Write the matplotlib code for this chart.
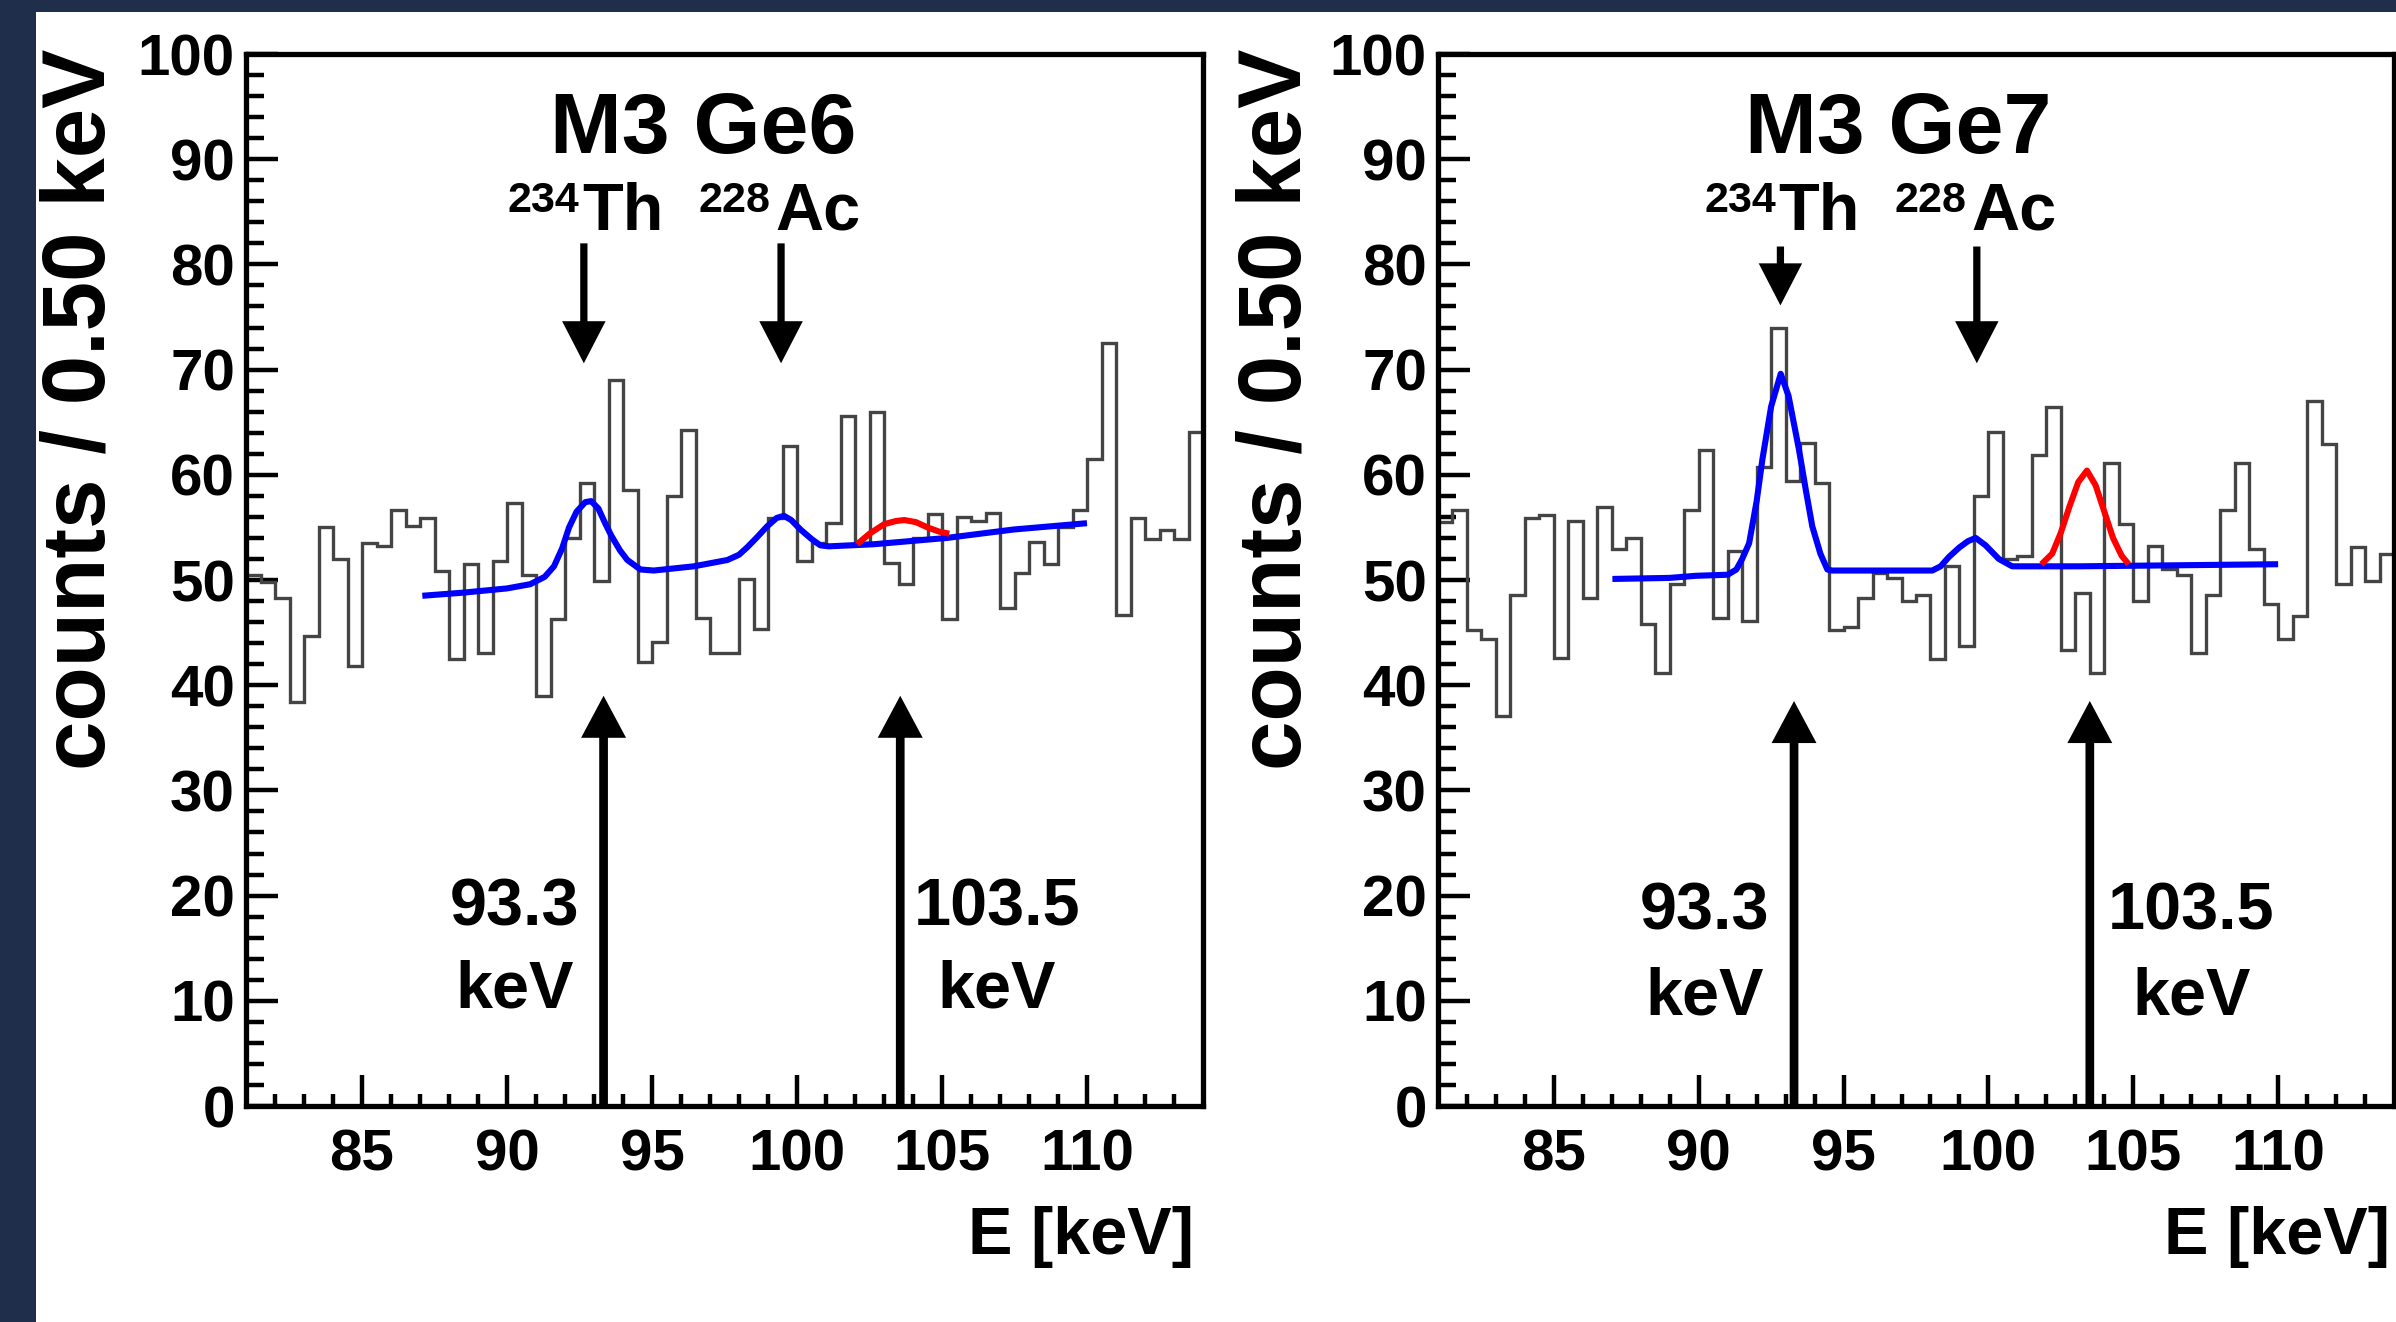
import matplotlib.pyplot as plt
import matplotlib.patches as mpatches
import numpy as np

plt.rcParams['font.family'] = ['Liberation Sans', 'DejaVu Sans']
plt.rcParams['font.weight'] = 'bold'

# histogram: counts per 0.5 keV bin, 81 - 114 keV
bin_lo = 81.0
bin_w = 0.5

ge6_counts = [50.5, 49.8, 48.3, 38.4, 44.7, 55.0, 52.0, 41.8, 53.5, 53.2,
              56.7, 55.1, 55.9, 50.9, 42.5, 51.5, 43.1, 51.8, 57.3, 50.5,
              39.0, 46.3, 54.0, 59.2, 49.9, 69.0, 58.6, 42.2, 44.1, 58.0,
              64.3, 46.4, 43.1, 43.1, 50.1, 45.3, 55.9, 62.7, 51.8, 53.5,
              55.4, 65.6, 53.5, 66.0, 51.6, 49.6, 54.0, 56.3, 46.3, 56.0,
              55.6, 56.4, 47.3, 50.7, 53.6, 51.5, 55.0, 56.7, 61.5, 72.5,
              46.7, 55.9, 53.9, 54.8, 53.9, 64.1]

ge7_counts = [55.5, 56.7, 45.2, 44.4, 37.1, 48.6, 55.9, 56.2, 42.6, 55.6,
              48.3, 56.9, 52.9, 54.0, 45.8, 41.2, 49.6, 56.7, 62.4, 46.4,
              52.8, 46.1, 60.7, 74.0, 59.4, 63.0, 59.2, 45.2, 45.5, 48.3,
              50.7, 50.2, 48.0, 48.6, 42.5, 51.3, 43.7, 58.0, 64.1, 52.0,
              52.3, 61.9, 66.4, 43.3, 48.8, 41.2, 61.1, 55.3, 48.0, 53.2,
              51.0, 50.5, 43.1, 48.6, 56.7, 61.1, 52.9, 47.7, 44.4, 46.6,
              67.0, 62.9, 49.6, 53.1, 49.9, 52.5]

# fit curves (blue: full fit, red: 103.5 keV peak)
ge6_fit_e = [87.08, 88.5, 90.0, 90.8, 91.3, 91.62, 91.9, 92.14, 92.4, 92.7,
             92.9, 93.15, 93.4, 93.6, 93.9, 94.15, 94.6, 95.06, 96.44, 97.6,
             98.0, 98.28, 98.6, 98.97, 99.3, 99.55, 99.8, 100.12, 100.5, 100.8,
             101.1, 102.65, 105.17, 107.47, 110.0]
ge6_fit_y = [48.5, 48.8, 49.2, 49.6, 50.3, 51.3, 53.0, 55.0, 56.5, 57.4,
             57.5, 56.8, 55.3, 54.2, 52.8, 51.9, 51.0, 50.9, 51.3, 51.9,
             52.4, 53.1, 54.0, 55.1, 55.9, 56.1, 55.7, 54.8, 53.9, 53.3,
             53.2, 53.4, 54.0, 54.8, 55.4]
ge6_red_e = [102.07, 102.5, 103.0, 103.4, 103.7, 104.1, 104.5, 104.9, 105.25]
ge6_red_y = [53.4, 54.4, 55.3, 55.6, 55.7, 55.5, 55.0, 54.6, 54.4]

ge7_fit_e = [87.02, 89.0, 89.9, 91.0, 91.3, 91.5, 91.74, 92.0, 92.2, 92.5,
             92.83, 93.1, 93.46, 93.7, 93.92, 94.2, 94.44, 94.6, 98.06, 98.35,
             98.64, 99.0, 99.3, 99.56, 99.9, 100.36, 100.82, 103.1, 110.0]
ge7_fit_y = [50.1, 50.2, 50.4, 50.5, 51.0, 52.0, 53.5, 57.5, 61.5, 66.5,
             69.6, 67.5, 62.4, 58.5, 55.1, 52.5, 51.0, 50.9, 50.9, 51.3,
             52.2, 53.1, 53.7, 54.0, 53.3, 52.0, 51.3, 51.3, 51.5]
ge7_red_e = [101.83, 102.2, 102.5, 102.8, 103.1, 103.4, 103.7, 104.0, 104.3, 104.6, 104.84]
ge7_red_y = [51.5, 52.5, 54.5, 57.0, 59.3, 60.4, 59.0, 56.5, 54.0, 52.3, 51.5]

titles = ['M3 Ge6', 'M3 Ge7']
line_labels = ['93.3', '103.5']

W, H = 2396, 1322
fig = plt.figure(figsize=(W / 100, H / 100), dpi=100, facecolor='#1f2e4a')
fig.add_artist(mpatches.Rectangle((36 / W, 0), 1, 1 - 12 / H, transform=fig.transFigure,
                                  facecolor='white', edgecolor='none', zorder=-1))

ax1 = fig.add_axes([246 / W, 1 - 1106 / H, (1203 - 246) / W, (1106 - 54) / H])
ax2 = fig.add_axes([1438 / W, 1 - 1106 / H, (2394 - 1438) / W, (1106 - 54) / H])


def style_axes(ax):
    ax.set_xlim(81, 114)
    ax.set_ylim(0, 100)
    ax.set_xticks([85, 90, 95, 100, 105, 110])
    ax.set_xticks(np.arange(82, 114, 1), minor=True)
    ax.set_yticks(np.arange(0, 101, 10))
    ax.set_yticks(np.arange(0, 101, 2), minor=True)
    ax.tick_params(which='both', direction='in', top=False, right=False, width=3.2)
    ax.tick_params(axis='x', which='major', length=22, pad=16, labelsize=42)
    ax.tick_params(axis='x', which='minor', length=9)
    ax.tick_params(axis='y', which='major', length=23, pad=8, labelsize=42)
    ax.tick_params(axis='y', which='minor', length=13)
    for s in ax.spines.values():
        s.set_linewidth(3.8)


def down_arrow(ax, x, top, tip):
    ax.arrow(x, top, 0, tip - top, width=0.25, head_width=1.5, head_length=4.0,
             length_includes_head=True, fc='black', ec='none', zorder=5)


def up_arrow(ax, x, tip):
    ax.arrow(x, 0, 0, tip, width=0.3, head_width=1.55, head_length=4.0,
             length_includes_head=True, fc='black', ec='none', zorder=5, clip_on=False)


def draw_panel(ax, counts, fit_e, fit_y, red_e, red_y, title, title_x,
               th_x, ac_x, th_arrow, ac_arrow, up_x, up_tip, lab_x, lab_y):
    style_axes(ax)
    edges = bin_lo + bin_w * np.arange(len(counts) + 1)
    ax.stairs(counts, edges, baseline=None, color='#444444', lw=2.4, zorder=2)
    ax.plot(fit_e, fit_y, color='#0000ff', lw=4.4, zorder=3, solid_capstyle='butt')
    ax.plot(red_e, red_y, color='#ff0000', lw=4.4, zorder=4, solid_capstyle='butt')

    ax.text(title_x, 90.6, title, ha='center', va='baseline', fontsize=62)
    # isotope labels with superscript mass numbers
    ax.text(th_x - 0.1, 85.0, '234', ha='right', va='baseline', fontsize=31)
    ax.text(th_x, 83.3, 'Th', ha='left', va='baseline', fontsize=48)
    ax.text(ac_x - 0.15, 85.0, '228', ha='right', va='baseline', fontsize=31)
    ax.text(ac_x, 83.3, 'Ac', ha='left', va='baseline', fontsize=48)

    down_arrow(ax, th_arrow[0], th_arrow[1], th_arrow[2])
    down_arrow(ax, ac_arrow[0], ac_arrow[1], ac_arrow[2])
    for x, tip in zip(up_x, up_tip):
        up_arrow(ax, x, tip)
    for x, lab in zip(lab_x, line_labels):
        ax.text(x, lab_y[0], lab, ha='center', va='baseline', fontsize=48)
        ax.text(x, lab_y[1], 'keV', ha='center', va='baseline', fontsize=48)


draw_panel(ax1, ge6_counts, ge6_fit_e, ge6_fit_y, ge6_red_e, ge6_red_y,
           titles[0], 96.75, 92.6, 99.24, (92.65, 82.0, 70.6), (99.45, 82.0, 70.6),
           [93.33, 103.56], [39.0, 39.0], [90.25, 106.9], [17.2, 9.35])
draw_panel(ax2, ge7_counts, ge7_fit_e, ge7_fit_y, ge7_red_e, ge7_red_y,
           titles[1], 96.9, 92.76, 99.4, (92.82, 81.7, 76.1), (99.6, 81.7, 70.6),
           [93.29, 103.5], [38.5, 38.5], [90.2, 107.0], [16.8, 8.7])

for xc in [82 / W, 1277 / W]:
    fig.text(xc, 1 - 409 / H, 'counts / 0.50 keV', rotation=90, ha='center',
             va='center', fontsize=64)
for xr in [1194 / W, 2390 / W]:
    fig.text(xr, 1 - 1254 / H, 'E [keV]', ha='right', va='baseline', fontsize=48)

fig.savefig('out.png', dpi=100, facecolor=fig.get_facecolor())
